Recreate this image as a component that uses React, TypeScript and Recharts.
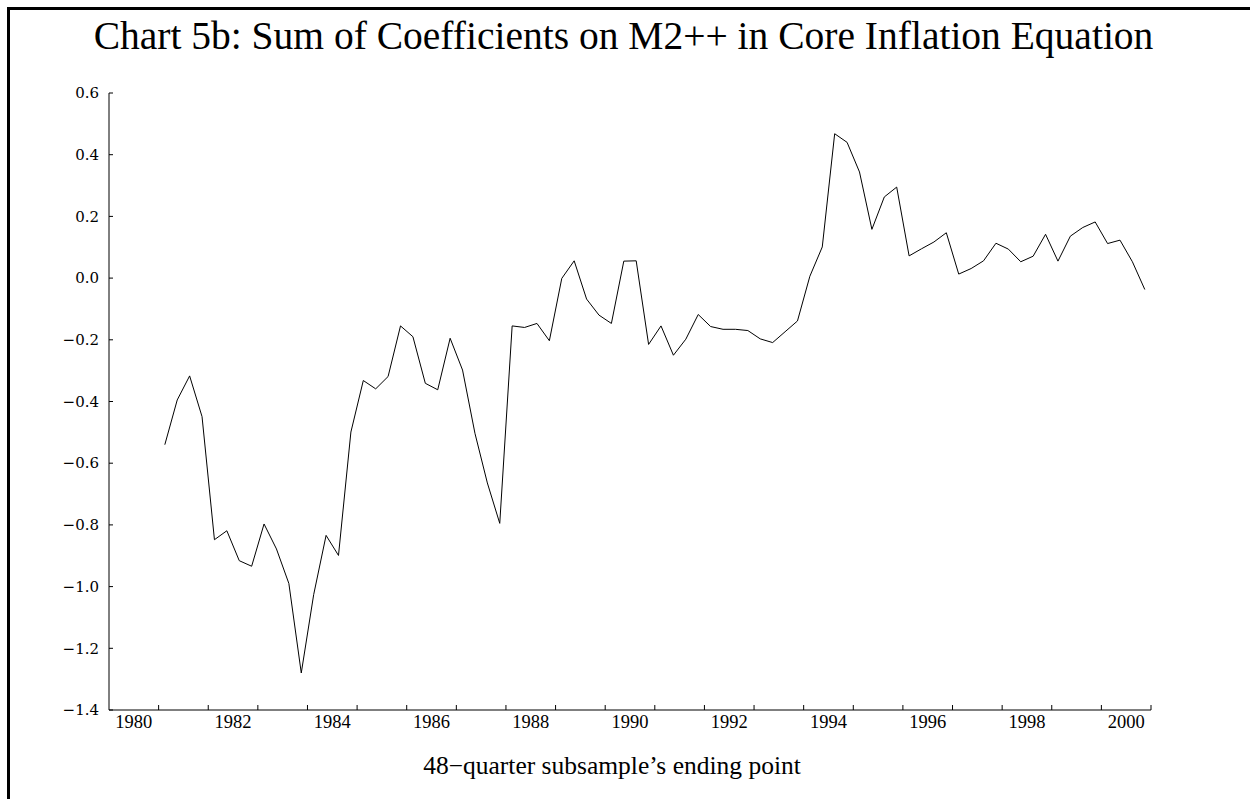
import { LineChart, Line, XAxis, YAxis } from "recharts";

// quarterly coefficient sums, 48-quarter rolling window, 1980Q3 .. 2000Q2
const firstQuarter = 1980.625;
const coefSums = [
  -0.54, -0.395, -0.317, -0.449, -0.848, -0.819, -0.916, -0.934,
  -0.797, -0.878, -0.99, -1.28, -1.026, -0.834, -0.899, -0.499,
  -0.332, -0.359, -0.319, -0.155, -0.19, -0.341, -0.362, -0.195,
  -0.298, -0.503, -0.664, -0.795, -0.155, -0.16, -0.147, -0.203,
  -0.001, 0.056, -0.068, -0.12, -0.147, 0.055, 0.056, -0.215,
  -0.155, -0.25, -0.198, -0.118, -0.157, -0.166, -0.166, -0.17,
  -0.197, -0.209, -0.174, -0.139, 0.006, 0.101, 0.468, 0.44,
  0.344, 0.158, 0.263, 0.295, 0.072, 0.095, 0.117, 0.147,
  0.013, 0.031, 0.056, 0.113, 0.094, 0.053, 0.071, 0.142,
  0.055, 0.136, 0.164, 0.182, 0.112, 0.123, 0.053, -0.037,
];

const yearLabels = [1980, 1982, 1984, 1986, 1988, 1990, 1992, 1994, 1996, 1998, 2000];
const yearMarks = [
  1980.5, 1981.5, 1982.5, 1983.5, 1984.5, 1985.5, 1986.5, 1987.5, 1988.5, 1989.5, 1990.5,
  1991.5, 1992.5, 1993.5, 1994.5, 1995.5, 1996.5, 1997.5, 1998.5, 1999.5, 2000.5,
];
const yTicks = [-1.4, -1.2, -1.0, -0.8, -0.6, -0.4, -0.2, 0.0, 0.2, 0.4, 0.6];

const chartData = coefSums.map((v, i) => ({ t: firstQuarter + i * 0.25, v }));

const serif = "'Liberation Serif', 'Times New Roman', serif";

// eslint-disable-next-line @typescript-eslint/no-explicit-any
const XTick = (props: any) => {
  const { x, y, payload } = props;
  const val = payload.value;
  if (Number.isInteger(val)) {
    return (
      <text x={x} y={y + 18} textAnchor="middle" fontFamily={serif} fontSize={18.5} fill="#000">
        {val}
      </text>
    );
  }
  return <line x1={x} y1={y} x2={x} y2={y - 5} stroke="#000" strokeWidth={1} />;
};

// eslint-disable-next-line @typescript-eslint/no-explicit-any
const YTick = (props: any) => {
  const { x, y, payload } = props;
  const v = payload.value;
  const label = (v < 0 ? "\u2212" : "") + Math.abs(v).toFixed(1);
  return (
    <g>
      <line x1={x} y1={y} x2={x + 4} y2={y} stroke="#000" strokeWidth={1} />
      <text x={x - 10} y={y} dy="0.35em" textAnchor="end" fontFamily="'DejaVu Serif', serif" fontSize={15} fill="#000">
        {label}
      </text>
    </g>
  );
};

export default function App() {
  return (
    <div style={{ position: "absolute", left: 0, top: 0, width: 1250, height: 799, background: "#fff", overflow: "hidden" }}>
      <div
        style={{
          position: "absolute",
          left: 7,
          top: 7,
          width: 1260,
          height: 810,
          borderTop: "3px solid #000",
          borderLeft: "3px solid #000",
        }}
      />
      <div
        style={{
          position: "absolute",
          left: 0,
          top: 17,
          width: 1247,
          textAlign: "center",
          fontFamily: serif,
          fontSize: 39.5,
          lineHeight: "39.5px",
          color: "#000",
          whiteSpace: "nowrap",
        }}
      >
        Chart 5b: Sum of Coefficients on M2++ in Core Inflation Equation
      </div>
      <div style={{ position: "absolute", left: 0, top: 0 }}>
        <LineChart width={1250} height={799} data={chartData} margin={{ top: 93, right: 99, bottom: 59, left: 49 }}>
          <XAxis
            dataKey="t"
            type="number"
            domain={[1979.5, 2000.5]}
            ticks={[...yearLabels, ...yearMarks]}
            interval={0}
            height={30}
            tickLine={false}
            tickSize={0}
            tickMargin={0}
            axisLine={{ stroke: "#000", strokeWidth: 1 }}
            tick={<XTick />}
            allowDataOverflow
          />
          <YAxis
            type="number"
            domain={[-1.4, 0.6]}
            ticks={yTicks}
            interval={0}
            width={60}
            tickLine={false}
            tickSize={0}
            tickMargin={0}
            axisLine={{ stroke: "#000", strokeWidth: 1 }}
            tick={<YTick />}
            allowDataOverflow
          />
          <Line
            type="linear"
            dataKey="v"
            stroke="#000"
            strokeWidth={1}
            dot={false}
            activeDot={false}
            isAnimationActive={false}
          />
        </LineChart>
      </div>
      <div
        style={{
          position: "absolute",
          left: 362,
          top: 753,
          width: 500,
          textAlign: "center",
          fontFamily: serif,
          fontSize: 25.5,
          lineHeight: "25.5px",
          color: "#000",
          whiteSpace: "nowrap",
        }}
      >
        48{"\u2212"}quarter subsample’s ending point
      </div>
    </div>
  );
}
